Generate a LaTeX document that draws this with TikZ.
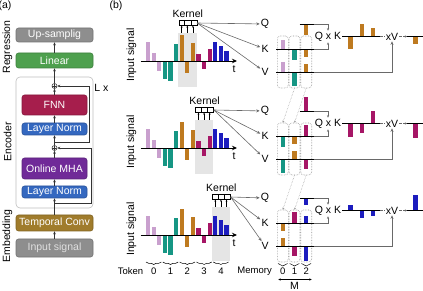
\documentclass[tikz,border=0pt]{standalone}
\usepackage{fontspec}
\setmainfont{Liberation Sans}
\usepackage{tikz}
\usetikzlibrary{arrows.meta, positioning, calc, decorations.pathreplacing}
\definecolor{tokpink}{RGB}{201,160,206}
\definecolor{tokteal}{RGB}{22,150,132}
\definecolor{tokbrown}{RGB}{190,122,32}
\definecolor{tokmag}{RGB}{166,22,102}
\definecolor{tokblue}{RGB}{28,28,190}
\colorlet{tok0}{tokpink}
\colorlet{tok1}{tokteal}
\colorlet{tok2}{tokbrown}
\colorlet{tok3}{tokmag}
\colorlet{tok4}{tokblue}
\definecolor{hlgray}{RGB}{229,229,229}
\definecolor{lngray}{RGB}{105,105,105}
\definecolor{dotgray}{RGB}{150,150,150}
\definecolor{frgray}{RGB}{190,190,190}
\definecolor{boxgray}{RGB}{142,142,142}
\definecolor{boxgreen}{RGB}{78,160,78}
\definecolor{boxred}{RGB}{166,30,76}
\definecolor{boxblue}{RGB}{52,104,192}
\definecolor{boxpurple}{RGB}{112,42,152}
\definecolor{boxbrown}{RGB}{160,124,44}
\tikzset{
  lbl/.style={inner sep=1pt, font=\fontsize{10.5}{12}\selectfont},
  smlbl/.style={inner sep=1pt, font=\fontsize{9.5}{11}\selectfont},
  stackbox/.style={rectangle, rounded corners=2.5pt, inner sep=0pt,
    text=white, font=\fontsize{10.5}{12}\selectfont, line width=0.6pt},
  wbox/.style={stackbox, minimum width=77pt},
  nbox/.style={stackbox, minimum width=65pt},
  encframe/.style={rectangle, rounded corners=4pt, draw=frgray, line width=0.6pt,
    minimum width=77pt, minimum height=131pt},
  addnode/.style={circle, draw=black!80, line width=0.5pt, minimum size=5pt, inner sep=0pt,
    path picture={\draw[line width=0.5pt] (path picture bounding box.north) -- (path picture bounding box.south)
      (path picture bounding box.west) -- (path picture bounding box.east);}},
  flow/.style={-{Stealth[length=3pt, width=2.6pt]}, line width=0.6pt, color=black!80},
  res/.style={-{Stealth[length=3pt, width=2.6pt]}, line width=0.6pt, color=black!80},
  axisline/.style={line width=0.9pt, color=black},
  taxis/.style={-{Stealth[length=5pt, width=4.5pt]}, line width=0.9pt},
  conn/.style={-{Stealth[length=3.5pt, width=3pt]}, line width=0.6pt, color=lngray},
  qkarrow/.style={-{Stealth[length=2.5pt, width=2.2pt]}, line width=0.6pt, color=lngray},
  dashconn/.style={line width=0.6pt, color=lngray, dash pattern=on 2.5pt off 1.5pt},
  tinyarrow/.style={-{Stealth[length=2pt, width=1.8pt]}, line width=0.5pt},
  kerbox/.style={rectangle, draw, line width=0.5pt, minimum width=18pt, minimum height=4.8pt, inner sep=0pt},
  memcol/.style={rectangle, rounded corners=3pt, draw=dotgray, densely dotted, line width=0.6pt,
    minimum width=11pt, minimum height=52pt, inner sep=0pt},
  shiftarrow/.style={-{Stealth[length=2pt, width=2pt]}, densely dotted, line width=0.5pt, color=dotgray},
  brc/.style={decorate, decoration={brace, mirror, amplitude=2.5pt}, line width=0.5pt}
}

\begin{document}
\begin{tikzpicture}[x=1pt, y=-1pt]
  \useasboundingbox (0,0) rectangle (423,291);
  % (a) model
  \node[lbl] (la) at (5,6) {(a)};
  \node[encframe] (enc) at (54.5,142.5) {};
  \node[wbox, fill=boxgray, draw=boxgray!80!black, minimum height=14pt] (up) at (54.5,35) {Up-samplig};
  \node[wbox, fill=boxgreen, draw=boxgreen!80!black, minimum height=15pt] (lin) at (54.5,60.5) {Linear};
  \node[addnode] (p1) at (54.5,86) {};
  \node[nbox, fill=boxred, draw=boxred!80!black, minimum height=20pt] (fnn) at (54.5,105) {FNN};
  \node[nbox, fill=boxblue, draw=boxblue!80!black, minimum height=12pt] (ln1) at (54.5,129) {Layer Norm};
  \node[addnode] (p2) at (54.5,148) {};
  \node[nbox, fill=boxpurple, draw=boxpurple!80!black, minimum height=21pt] (mha) at (54.5,168.5) {Online MHA};
  \node[nbox, fill=boxblue, draw=boxblue!80!black, minimum height=12pt] (ln2) at (54.5,192) {Layer Norm};
  \node[wbox, fill=boxbrown, draw=boxbrown!80!black, minimum height=16pt] (tc) at (54.5,223) {Temporal Conv};
  \node[wbox, fill=boxgray, draw=boxgray!80!black, minimum height=18pt, text=white!88!black] (ins) at (54.5,248) {Input signal};
  \draw[flow] (ins) -- (tc);
  \draw[flow] (tc) -- (ln2);
  \draw[flow] (ln2) -- (mha);
  \draw[flow] (mha) -- (p2);
  \draw[flow] (p2) -- (ln1);
  \draw[flow] (ln1) -- (fnn);
  \draw[flow] (fnn) -- (p1);
  \draw[flow] (p1) -- (lin);
  \draw[flow] (lin) -- (up);
  % residual paths
  \coordinate (b1) at (54.5,142);
  \coordinate (b2) at (54.5,203);
  \coordinate (r1) at (89,86);
  \coordinate (r2) at (91,148);
  \draw[res] (b1) -| (r1) -- (p1);
  \draw[res] (b2) -| (r2) -- (p2);
  \node[lbl] (lx) at (101.5,88) {L x};
  \node[lbl, rotate=90] (rg) at (7.5,47) {Regression};
  \node[lbl, rotate=90] (en) at (7.5,142) {Encoder};
  \node[lbl, rotate=90] (em) at (7.5,236) {Embedding};

  % (b) one row per time step
  \node[lbl] (lb) at (116,6) {(b)};
  \foreach \row/\ay/\kk/\qh/\qkl/\oh in {1/61/2/11/{12.3,-12.7,-8.7}/7.3,
      2/148/3/-14/{14,10,-12.7}/15, 3/235/4/6.7/{-5.7,7.7,5.7}/-15}{
    \begin{scope}[shift={(0,\ay)}]
      \pgfmathsetmacro\hl{146+16.8*\kk}
      % kernel window
      \fill[hlgray] (\hl-1.5,-28) rectangle (\hl+16.9,26);
      % input signal, three samples per token
      \foreach \h [count=\n from 0] in {-19,-8.3,10,18,20,-17,-26,11.7,-18.3,-7,8,-12.3,-18.7,-14.7,-10}{
        \pgfmathtruncatemacro\tk{\n/3}
        \fill[tok\tk] (146+5.6*\n,0) rectangle ++(4.2,\h);
      }
      \draw[taxis] (140.5,0) -- (237,0);
      \node[lbl] (t\row) at (234,8) {t};
      \node[lbl, rotate=90] (is\row) at (131.5,-6) {Input signal};
      \node[kerbox] (ker\row) at (\hl+8.2,-38) {};
      \draw[line width=0.5pt] ($(ker\row.north west)!1/3!(ker\row.north east)$) -- ($(ker\row.south west)!1/3!(ker\row.south east)$)
        ($(ker\row.north west)!2/3!(ker\row.north east)$) -- ($(ker\row.south west)!2/3!(ker\row.south east)$);
      \node[lbl, above=1.5pt of ker\row] (kl\row) {Kernel};
      \foreach \j in {0,1,2}
        \draw[tinyarrow] (\hl+2.1+5.6*\j,-28) -- (\hl+2.1+5.6*\j,-28 |- ker\row.south);
      \node[lbl] (Q\row) at (265,-37) {Q};
      \node[lbl] (K\row) at (265,-12) {K};
      \node[lbl] (V\row) at (265,11) {V};
      \foreach \m in {Q,K,V}
        \draw[conn] (ker\row.east) -- (\m\row);
      % memory of K and V, last three tokens
      \foreach \c in {0,1,2}{
        \node[memcol] (m\row\c) at (282.8+11.7*\c,1) {};
        \pgfmathtruncatemacro\tk{\kk-2+\c}
        \pgfmathsetmacro\kh{{-9.3,10.7,8,-11,-7.3}[\tk]}
        \pgfmathsetmacro\vh{{-10,14,-8,10,15}[\tk]}
        \fill[tok\tk] (280.65+11.7*\c,-12) rectangle ++(4.3,\kh);
        \fill[tok\tk] (280.65+11.7*\c,11) rectangle ++(4.3,\vh);
      }
      \fill[tok\kk] (304.05,-37) rectangle ++(4.3,\qh);
      \draw[axisline] (299.5,-37) -- (313.5,-37) coordinate (qe\row);
      \draw[axisline] (276,-12) -- (313.5,-12) coordinate (ke\row);
      \draw[axisline] (276,11) -- (313.5,11) coordinate (ve\row);
      % attention
      \node[lbl] (qk\row) at (328,-24.5) {Q x K};
      \draw[qkarrow] (qe\row) -| (qk\row.north);
      \draw[qkarrow] (ke\row) -| (qk\row.south);
      \foreach \h [count=\j from 0] in \qkl
        \fill[tok\kk] (348.4+11.3*\j,-24.5) rectangle ++(4.3,\h);
      \draw[axisline] (qk\row.east) -- (380,-24.5) coordinate (qkend\row);
      \node[lbl] (xv\row) at (392,-24.5) {xV};
      \draw[dashconn] (qkend\row) -- (xv\row.west);
      \draw[dashconn, -{Stealth[length=2.5pt, width=2.2pt]}] (xv\row.east) -- ++(8,0) coordinate (os\row);
      \draw[conn] (ve\row) -| (xv\row.south);
      \fill[tok\kk] (413.3,-24.5) rectangle ++(4.3,\oh);
      \draw[axisline] (os\row) -- (423,-24.5);
    \end{scope}
  }
  % memory shift between steps
  \foreach \a/\b in {1/2, 2/3}{
    \draw[shiftarrow] (m\a1.south) -- (m\b0.north);
    \draw[shiftarrow] (m\a2.south) -- (m\b1.north);
  }
  % token and memory indices
  \node[smlbl] (tokl) at (130.5,271) {Token};
  \foreach \n in {0,...,4}{
    \draw[brc] (146+16.8*\n,262) -- (161.4+16.8*\n,262);
    \node[smlbl] (tk\n) at (153.7+16.8*\n,271) {\n};
  }
  \node[smlbl, anchor=east] (meml) at (273,271) {Memory};
  \foreach \c in {0,1,2}{
    \draw[brc] (278+11.7*\c,263.5) -- (287.6+11.7*\c,263.5);
    \node[smlbl] (md\c) at (282.8+11.7*\c,271) {\c};
  }
  \coordinate (ml) at (278.3,279.5);
  \coordinate (mr) at (311.7,279.5);
  \draw[{Stealth[length=2.5pt, width=2.2pt]}-{Stealth[length=2.5pt, width=2.2pt]}, line width=0.5pt] (ml) -- (mr);
  \node[lbl, inner sep=0.5pt] (mm) at (294.5,285.5) {M};
\end{tikzpicture}
\end{document}
